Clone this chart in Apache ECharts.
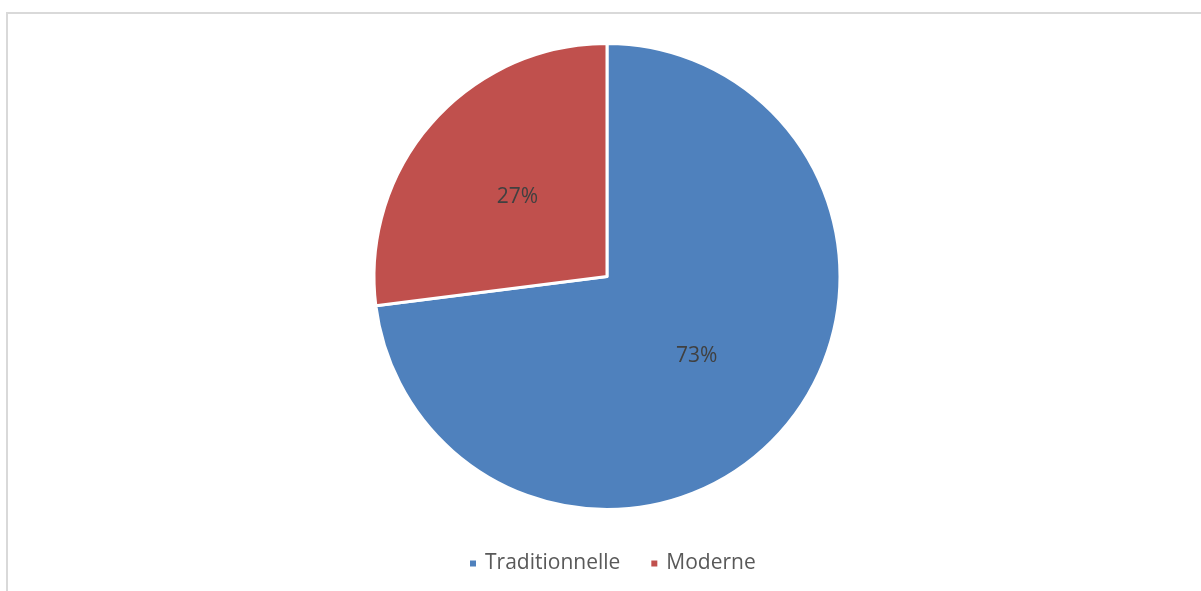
<!DOCTYPE html>
<html>
<head>
<meta charset="utf-8">
<script src="https://cdn.jsdelivr.net/npm/echarts@6/dist/echarts.min.js"></script>
<style>
  html, body { margin: 0; padding: 0; background: #fff; }
  #chart { width: 1201px; height: 591px; }
</style>
</head>
<body>
<div id="chart"></div>
<script>
// Share of each type, in percent
const categories = ['Traditionnelle', 'Moderne'];
const shares = [73, 27];
const colors = ['#4F81BD', '#C0504D'];

const chart = echarts.init(document.getElementById('chart'), null, { renderer: 'canvas' });

chart.setOption({
  animation: false,
  backgroundColor: '#ffffff',
  graphic: [{
    type: 'rect',
    shape: { x: 7, y: 13, width: 1400, height: 800 },
    style: { fill: 'none', stroke: '#d9d9d9', lineWidth: 2 },
    silent: true
  }],
  legend: {
    data: categories,
    bottom: 12,
    left: 463,
    icon: 'rect',
    itemWidth: 8,
    itemHeight: 8,
    itemGap: 29,
    textStyle: {
      fontFamily: 'Open Sans, sans-serif',
      fontSize: 21,
      color: '#595959',
      padding: [0, 0, 0, 3]
    }
  },
  series: [{
    type: 'pie',
    center: [607, 276.5],
    radius: [0, 233],
    startAngle: 90,
    clockwise: true,
    label: {
      show: true,
      position: 'inner',
      formatter: '{d}%',
      fontFamily: 'Open Sans, sans-serif',
      fontSize: 21,
      color: '#404040'
    },
    labelLine: { show: false },
    itemStyle: { borderColor: '#ffffff', borderWidth: 3 },
    emphasis: { disabled: true },
    data: categories.map((name, i) => ({
      name: name,
      value: shares[i],
      itemStyle: { color: colors[i] }
    }))
  }]
});
</script>
</body>
</html>
